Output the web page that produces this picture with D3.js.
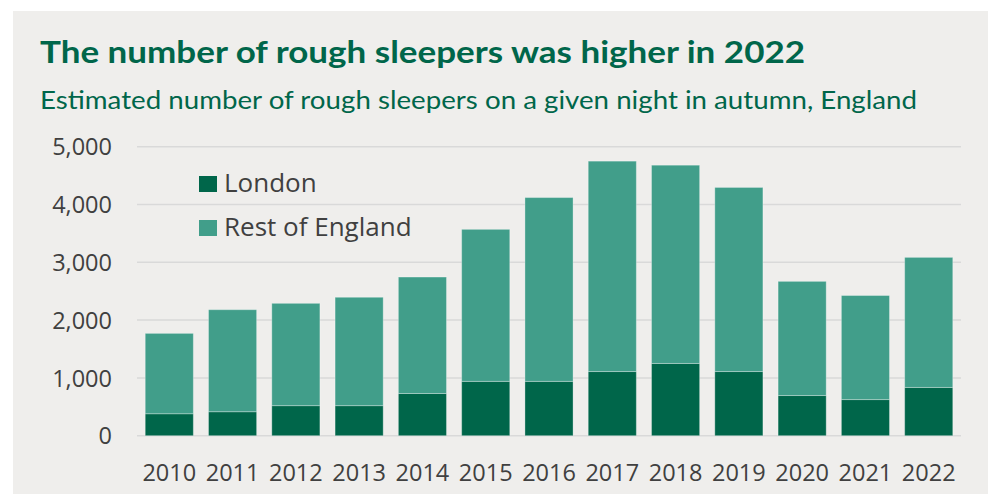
<!DOCTYPE html>
<html>
<head>
<meta charset="utf-8">
<script src="https://cdn.jsdelivr.net/npm/d3@7"></script>
<style>
  body { margin: 0; background: #ffffff; }
  svg { display: block; }
</style>
</head>
<body>
<div id="chart"></div>
<script>
// data
var years = ["2010", "2011", "2012", "2013", "2014", "2015", "2016", "2017", "2018", "2019", "2020", "2021", "2022"];
var london = [380, 415, 520, 520, 730, 940, 940, 1110, 1250, 1110, 695, 625, 835];
var restOfEngland = [1390, 1765, 1770, 1875, 2015, 2630, 3180, 3640, 3430, 3185, 1975, 1800, 2250];
var seriesNames = ["London", "Rest of England"];
var yTicks = [0, 1000, 2000, 3000, 4000, 5000];

var width = 999, height = 494;
var colours = {"London": "#00664a", "Rest of England": "#419e8a"};
var textCol = "#404040";
var titleCol = "#00664a";

var svg = d3.select("#chart").append("svg")
    .attr("width", width)
    .attr("height", height);

// grey panel behind everything
svg.append("rect")
    .attr("x", 13).attr("y", 11)
    .attr("width", 975).attr("height", height - 11)
    .attr("fill", "#efeeec");

svg.append("text")
    .attr("x", 40).attr("y", 63)
    .attr("fill", titleCol)
    .attr("font-family", "Lato, 'Open Sans', sans-serif")
    .attr("font-weight", "bold")
    .attr("font-size", 30)
    .attr("textLength", 765)
    .attr("lengthAdjust", "spacingAndGlyphs")
    .text("The number of rough sleepers was higher in 2022");

svg.append("text")
    .attr("x", 40).attr("y", 109)
    .attr("fill", titleCol)
    .attr("font-family", "Lato, 'Open Sans', sans-serif")
    .attr("font-size", 25)
    .attr("textLength", 877)
    .attr("lengthAdjust", "spacingAndGlyphs")
    .text("Estimated number of rough sleepers on a given night in autumn, England");

var margin = {left: 137, right: 38, top: 146.7, bottom: 58.3};

var x = d3.scaleBand()
    .domain(years)
    .range([margin.left, width - margin.right])
    .paddingInner(0.24)
    .paddingOuter(0.13);

var y = d3.scaleLinear()
    .domain([0, 5000])
    .range([height - margin.bottom, margin.top]);

// gridlines
svg.append("g")
  .selectAll("line")
  .data(yTicks)
  .join("line")
    .attr("x1", margin.left)
    .attr("x2", width - margin.right)
    .attr("y1", function(d) { return y(d); })
    .attr("y2", function(d) { return y(d); })
    .attr("stroke", "#d9d9d9")
    .attr("stroke-width", 1.5);

// y axis labels
var yAxis = svg.append("g")
    .attr("transform", "translate(" + (margin.left - 25) + ",0)")
    .call(d3.axisLeft(y).tickValues(yTicks).tickSize(0).tickPadding(0).tickFormat(d3.format(",")));
yAxis.select(".domain").remove();
yAxis.selectAll("text")
    .attr("fill", textCol)
    .attr("font-family", "'Open Sans', sans-serif")
    .attr("font-size", 23.5)
    .attr("dy", "0.35em");

// x axis labels
var xAxis = svg.append("g")
    .attr("transform", "translate(0," + (height - margin.bottom) + ")")
    .call(d3.axisBottom(x).tickSize(0).tickPadding(0));
xAxis.select(".domain").remove();
xAxis.selectAll("text")
    .attr("fill", textCol)
    .attr("font-family", "'Open Sans', sans-serif")
    .attr("font-size", 23.5)
    .attr("dy", 0)
    .attr("y", 45);

// stacked bars
var table = years.map(function(yr, i) {
  return {year: yr, "London": london[i], "Rest of England": restOfEngland[i]};
});
var stack = d3.stack().keys(seriesNames)(table);

svg.append("g")
  .selectAll("g")
  .data(stack)
  .join("g")
    .attr("fill", function(d) { return colours[d.key]; })
  .selectAll("rect")
  .data(function(d) { return d; })
  .join("rect")
    .attr("x", function(d) { return x(d.data.year); })
    .attr("width", x.bandwidth())
    .attr("y", function(d) { return y(d[1]); })
    .attr("height", function(d) { return y(d[0]) - y(d[1]); })
    .attr("stroke", "rgba(255,255,255,0.3)")
    .attr("stroke-width", 1);

// legend
var legend = svg.append("g")
  .selectAll("g")
  .data(seriesNames)
  .join("g")
    .attr("transform", function(d, i) { return "translate(199," + (176 + i * 44) + ")"; });

legend.append("rect")
    .attr("width", 18).attr("height", 16)
    .attr("fill", function(d) { return colours[d]; });

legend.append("text")
    .attr("x", 25).attr("y", 16)
    .attr("fill", textCol)
    .attr("font-family", "'Open Sans', sans-serif")
    .attr("font-size", 26)
    .text(function(d) { return d; });
</script>
</body>
</html>
